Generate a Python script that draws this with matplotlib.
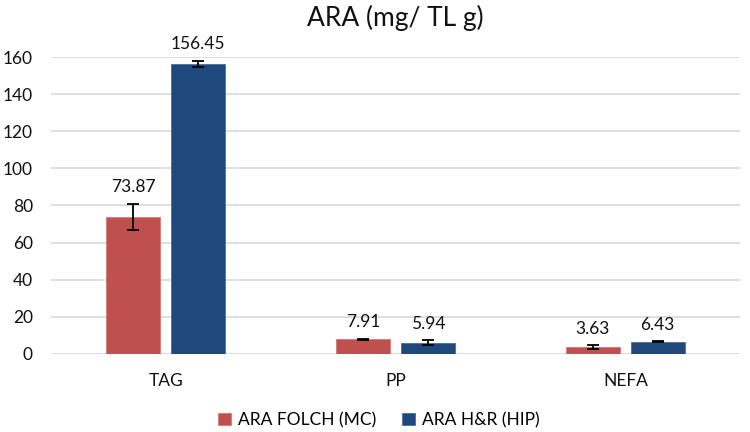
import numpy as np
import matplotlib.pyplot as plt

categories = ['TAG', 'PP', 'NEFA']
folch = [73.87, 7.91, 3.63]
folch_err = [7.0, 0.3, 1.0]
hr = [156.45, 5.94, 6.43]
hr_err = [1.6, 1.4, 0.3]

plt.rcParams['font.family'] = ['Lato', 'DejaVu Sans']

fig = plt.figure(figsize=(7.5, 4.32), dpi=100)
ax = fig.add_axes([0.068, 0.181, 0.919, 0.687])

x = np.arange(len(categories))
w = 0.235
off = 0.141
ekw = dict(elinewidth=1.3, capthick=1.3, ecolor='black')
b1 = ax.bar(x - off, folch, w, color='#C0504D', edgecolor='#D47A77', linewidth=0.6,
            yerr=folch_err, capsize=4, error_kw=ekw, label='ARA FOLCH (MC)', zorder=3)
b2 = ax.bar(x + off, hr, w, color='#1F497D', edgecolor='#4A6E9A', linewidth=0.6,
            yerr=hr_err, capsize=4, error_kw=ekw, label='ARA H&R (HIP)', zorder=3)

for xs, vals, errs in [(x - off, folch, folch_err), (x + off, hr, hr_err)]:
    for xi, v, e in zip(xs, vals, errs):
        ax.annotate(f'{v:.2f}', (xi, v + e), xytext=(0, 6), textcoords='offset points',
                    ha='center', va='bottom', fontsize=12.5, color='#111111',
                    annotation_clip=False)

ax.set_xlim(-0.5, 2.5)
ax.set_ylim(0, 160)
ax.set_yticks(range(0, 161, 20))
ax.set_xticks(x)
ax.set_xticklabels(categories)
ax.tick_params(axis='both', length=0, labelsize=12.5, colors='#111111')
ax.tick_params(axis='x', pad=14)
ax.tick_params(axis='y', pad=13)
ax.grid(axis='y', color='#D9D9D9', linewidth=1.2, zorder=0)
for s in ax.spines.values():
    s.set_visible(False)

ax.set_title('ARA (mg/ TL g)', fontsize=19, color='#111111', pad=22)

fig.legend(handles=[b1, b2], loc='center', bbox_to_anchor=(0.505, 0.028), ncol=2,
           frameon=False, fontsize=12.5, handlelength=0.75, handleheight=0.75,
           columnspacing=1.5, handletextpad=0.4)

fig.savefig('out.png', dpi=100)
